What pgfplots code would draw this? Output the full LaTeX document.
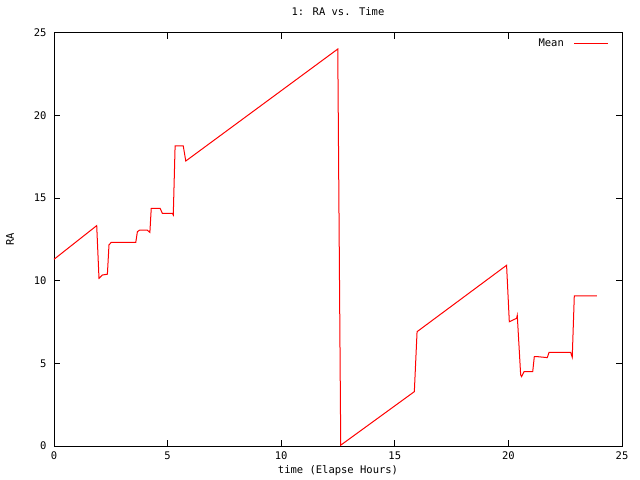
\documentclass[border=0pt]{standalone}
\usepackage{fontspec}
\setmainfont{DejaVu Sans Mono}
\usepackage{pgfplots}
\pgfplotsset{compat=1.18}
\begin{document}
\begin{tikzpicture}
\useasboundingbox (-54bp,-34bp) rectangle (586bp,446bp);
\begin{axis}[
  at={(0,0)}, anchor=south west,
  scale only axis, width=568bp, height=413bp,
  xmin=0, xmax=25, ymin=0, ymax=25,
  xtick={0,5,...,25}, ytick={0,5,...,25},
  tick align=inside, major tick length=6bp,
  minor tick num=0,
  axis line style={line width=1bp, black},
  every tick/.style={black, line width=1bp},
  font=\fontsize{10.5bp}{12bp}\selectfont,
  /pgf/number format/assume math mode=true,
  ticklabel style={font=\fontsize{10.5bp}{12bp}\selectfont},
  xticklabel style={yshift=-2bp},
  yticklabel style={xshift=-4bp},
  title={1: RA vs. Time},
  title style={at={(0.5,1)}, anchor=south, yshift=8bp},
  xlabel={time (Elapse Hours)},
  xlabel style={at={(0.5,0)}, anchor=north, yshift=-16bp},
  legend style={at={(1,1)}, anchor=north east, xshift=-10bp, yshift=-2bp, draw=none, fill=none, legend plot pos=right, font=\fontsize{10.5bp}{12bp}\selectfont},
  legend image code/.code={\path (0bp,0bp); \draw[#1] (8bp,0bp) -- (42bp,0bp);},
  clip=false,
]
\addplot[color=red, line width=1bp, mark=none] coordinates {
(0,11.3)
(1.88,13.34)
(1.98,10.15)
(2.13,10.35)
(2.35,10.4)
(2.42,12.17)
(2.52,12.33)
(3.6,12.33)
(3.67,12.97)
(3.77,13.07)
(4.1,13.07)
(4.22,12.93)
(4.28,14.39)
(4.67,14.39)
(4.77,14.08)
(5.21,14.08)
(5.25,13.98)
(5.33,18.16)
(5.69,18.16)
(5.8,17.25)
(12.49,24.03)
(12.62,0.05)
(15.86,3.29)
(15.98,6.92)
(19.92,10.94)
(20.04,7.52)
(20.36,7.73)
(20.39,7.91)
(20.54,4.30)
(20.58,4.2)
(20.69,4.5)
(21.07,4.5)
(21.14,5.41)
(21.27,5.41)
(21.71,5.35)
(21.79,5.67)
(22.74,5.67)
(22.81,5.37)
(22.9,9.08)
(23.89,9.08)
};
\addlegendentry{Mean}
\node[anchor=center, rotate=90] at ([xshift=-44bp]rel axis cs:0,0.5) {RA};
\end{axis}
\end{tikzpicture}
\end{document}
